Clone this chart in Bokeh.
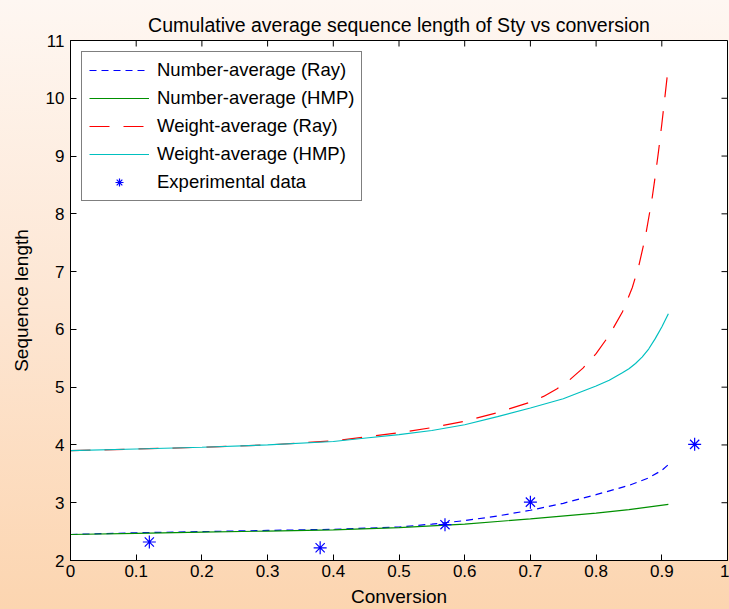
import math
from bokeh.plotting import figure
from bokeh.models import FixedTicker, Range1d
from bokeh.embed import file_html
from bokeh.resources import INLINE

# ---- data ----
x_num_ray = [0, 0.1, 0.2, 0.3, 0.4, 0.5, 0.55, 0.6, 0.65, 0.7, 0.75, 0.8, 0.85, 0.88, 0.9, 0.91]
num_ray = [2.45, 2.48, 2.50, 2.52, 2.54, 2.58, 2.63, 2.69, 2.77, 2.87, 2.99, 3.14, 3.30, 3.43, 3.56, 3.66]

x_num_hmp = [0, 0.1, 0.2, 0.3, 0.4, 0.5, 0.6, 0.7, 0.8, 0.85, 0.91]
num_hmp = [2.45, 2.47, 2.49, 2.51, 2.53, 2.57, 2.63, 2.72, 2.82, 2.88, 2.97]

x_wt_ray = [0, 0.1, 0.2, 0.3, 0.4, 0.45, 0.5, 0.55, 0.6, 0.65, 0.7, 0.72, 0.74, 0.76, 0.78,
            0.8, 0.82, 0.84, 0.855, 0.865, 0.875, 0.885, 0.89, 0.895, 0.9, 0.905, 0.91]
wt_ray = [3.9, 3.93, 3.96, 4.0, 4.07, 4.14, 4.21, 4.30, 4.41, 4.56, 4.74, 4.84, 4.97, 5.13, 5.33,
          5.58, 5.90, 6.30, 6.72, 7.10, 7.60, 8.25, 8.65, 9.08, 9.55, 10.05, 10.56]

x_wt_hmp = [0, 0.1, 0.2, 0.3, 0.4, 0.45, 0.5, 0.55, 0.6, 0.65, 0.7, 0.75, 0.8, 0.82, 0.84,
            0.85, 0.86, 0.87, 0.88, 0.89, 0.9, 0.91]
wt_hmp = [3.9, 3.93, 3.96, 4.0, 4.06, 4.12, 4.18, 4.25, 4.35, 4.49, 4.64, 4.80, 5.02, 5.12, 5.25,
          5.32, 5.41, 5.52, 5.66, 5.84, 6.04, 6.27]

x_exp = [0.12, 0.38, 0.57, 0.70, 0.95]
y_exp = [2.32, 2.22, 2.62, 3.01, 4.01]

x_ticks = [0, 0.1, 0.2, 0.3, 0.4, 0.5, 0.6, 0.7, 0.8, 0.9, 1]
x_tick_labels = ["0", "0.1", "0.2", "0.3", "0.4", "0.5", "0.6", "0.7", "0.8", "0.9", "1"]
y_ticks = [2, 3, 4, 5, 6, 7, 8, 9, 10, 11]
x_lo, x_hi = 0, 1
y_lo, y_hi = 2, 11

FONT = "Liberation Sans"

p = figure(width=729, height=609, output_backend="svg", toolbar_location=None,
           x_range=Range1d(x_lo, x_hi), y_range=Range1d(y_lo, y_hi),
           title="Cumulative average sequence length of Sty vs conversion",
           x_axis_label="Conversion", y_axis_label="Sequence length",
           min_border_left=70, min_border_right=2, min_border_top=40, min_border_bottom=49)

p.styles = {"background-image": "linear-gradient(to bottom, #fef7f2 0%, #fde6d3 50%, #fcd5b0 100%)"}
p.border_fill_color = None
p.background_fill_color = "white"
p.outline_line_color = "black"
p.grid.visible = False

p.title.text_font = FONT
p.title.text_font_size = "19.5px"
p.title.text_font_style = "normal"
p.title.align = "center"
p.title.text_color = "black"
p.title.standoff = 8
p.title.vertical_align = "middle"

for ax in (p.xaxis[0], p.yaxis[0]):
    ax.major_tick_in = 6
    ax.major_tick_out = 0
    ax.minor_tick_line_color = None
    ax.major_label_text_font = FONT
    ax.major_label_text_font_size = "17px"
    ax.major_label_text_color = "black"
    ax.axis_label_text_font = FONT
    ax.axis_label_text_font_size = "19px"
    ax.axis_label_text_font_style = "normal"
    ax.axis_label_text_color = "black"
    ax.axis_line_color = "black"
    ax.major_tick_line_color = "black"

p.xaxis[0].ticker = FixedTicker(ticks=x_ticks)
p.xaxis[0].major_label_overrides = dict(zip(x_ticks, x_tick_labels))
p.xaxis[0].major_label_standoff = 4
p.xaxis[0].axis_label_standoff = 6
p.yaxis[0].ticker = FixedTicker(ticks=y_ticks)
p.yaxis[0].major_label_standoff = 6
p.yaxis[0].axis_label_standoff = 11

# inward ticks on the top and right edges of the box (MATLAB style)
p.ray(x=x_ticks, y=[y_hi] * len(x_ticks), angle=-math.pi / 2, length=6,
      length_units="screen", line_color="black", line_width=1)
p.ray(x=[x_hi] * len(y_ticks), y=y_ticks, angle=math.pi, length=6,
      length_units="screen", line_color="black", line_width=1)

p.line(x_num_ray, num_ray, line_color="#0000ff", line_width=1.2, line_dash="7 5",
       legend_label="Number-average (Ray)")
p.line(x_num_hmp, num_hmp, line_color="#009000", line_width=1.2,
       legend_label="Number-average (HMP)")
p.line(x_wt_ray, wt_ray, line_color="#ff0000", line_width=1.2, line_dash="20 14",
       legend_label="Weight-average (Ray)")
p.line(x_wt_hmp, wt_hmp, line_color="#00c0c0", line_width=1.2,
       legend_label="Weight-average (HMP)")
p.scatter(x_exp, y_exp, marker="asterisk", size=13, line_color="#0000ff", line_width=1.2,
          legend_label="Experimental data")

lg = p.legend[0]
lg.location = "top_left"
lg.margin = 11
lg.padding = 7
lg.spacing = 6
lg.glyph_width = 60
lg.glyph_height = 20
lg.label_height = 20
lg.label_standoff = 8
lg.label_text_font = FONT
lg.label_text_font_size = "18.5px"
lg.label_text_color = "black"
lg.border_line_color = "black"
lg.border_line_width = 1
lg.background_fill_color = "white"
lg.background_fill_alpha = 1

open("out.html", "w").write(file_html(p, INLINE))
